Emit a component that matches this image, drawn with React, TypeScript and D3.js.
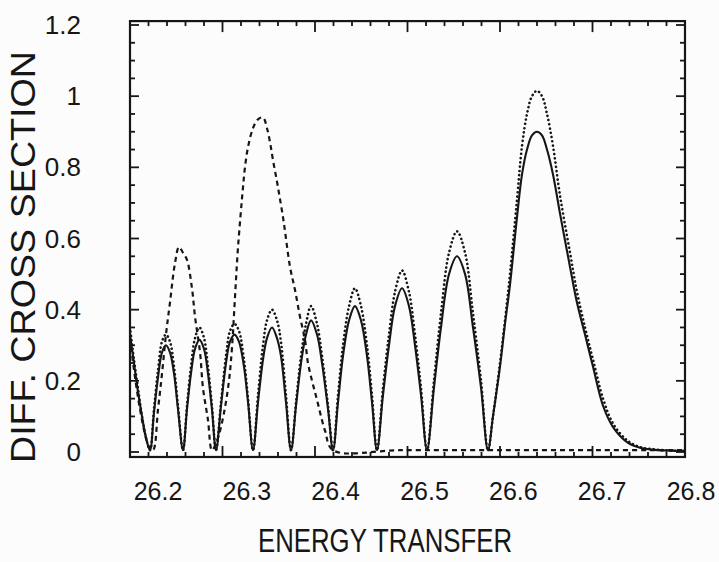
import React from "react";
import * as d3 from "d3";

// Energy transfer sample positions shared by the solid and dotted curves
const energy = [
  26.2, 26.2043, 26.2086, 26.213, 26.2173, 26.2216,
  26.2259, 26.2303, 26.2346, 26.2389, 26.2432, 26.2476, 26.2519, 26.2573,
  26.2616, 26.2659, 26.2703, 26.2751, 26.28, 26.2843, 26.2886, 26.293,
  26.2984, 26.3038, 26.3081, 26.313, 26.3178, 26.3232, 26.3276, 26.333,
  26.3384, 26.3438, 26.3481, 26.3535, 26.3589, 26.3632, 26.3686, 26.3741,
  26.3795, 26.3849, 26.3903, 26.3957, 26.4022, 26.4076, 26.4141, 26.4195,
  26.4249, 26.4303, 26.4368, 26.4432, 26.4497, 26.4562, 26.4616, 26.467,
  26.4735, 26.48, 26.4865, 26.4941, 26.5016, 26.5081, 26.5146, 26.5211,
  26.5286, 26.5362, 26.5449, 26.5535, 26.5622, 26.5708, 26.5795, 26.587,
  26.5924, 26.6, 26.6054, 26.6108, 26.6184, 26.6238, 26.6292, 26.6346, 26.64,
  26.6454, 26.6508, 26.6573, 26.6649, 26.6757, 26.6832, 26.6919, 26.7005,
  26.7114, 26.7222, 26.7373, 26.7514, 26.7676, 26.7838, 26.8,
];

// Solid curve
const solidSigma = [
  0.33, 0.25, 0.17, 0.1, 0.04, 0.005,
  0.11, 0.21, 0.28, 0.3, 0.28, 0.22, 0.12, 0.005,
  0.12, 0.22, 0.29, 0.315, 0.29, 0.22, 0.12, 0.005,
  0.13, 0.25, 0.31, 0.33, 0.31, 0.24, 0.14, 0.005,
  0.14, 0.26, 0.32, 0.35, 0.32, 0.27, 0.14, 0.005,
  0.13, 0.25, 0.33, 0.37, 0.33, 0.25, 0.12, 0.005,
  0.14, 0.27, 0.37, 0.41, 0.37, 0.27, 0.14, 0.005,
  0.16, 0.3, 0.41, 0.46, 0.41, 0.3, 0.16, 0.005,
  0.18, 0.35, 0.5, 0.55, 0.5, 0.35, 0.18, 0.005,
  0.1, 0.24, 0.36, 0.47, 0.66, 0.78, 0.85, 0.89, 0.9,
  0.89, 0.85, 0.78, 0.67, 0.52, 0.42, 0.33, 0.24,
  0.13, 0.07, 0.028, 0.012, 0.006, 0.004, 0.003,
];

// Dotted curve
const dottedSigma = [
  0.35, 0.26, 0.18, 0.1, 0.04, 0.005,
  0.12, 0.23, 0.31, 0.33, 0.31, 0.24, 0.13, 0.005,
  0.13, 0.24, 0.32, 0.35, 0.32, 0.24, 0.13, 0.005,
  0.14, 0.27, 0.34, 0.36, 0.34, 0.26, 0.15, 0.005,
  0.16, 0.3, 0.37, 0.4, 0.37, 0.31, 0.16, 0.005,
  0.14, 0.27, 0.36, 0.41, 0.36, 0.27, 0.13, 0.005,
  0.16, 0.3, 0.41, 0.46, 0.41, 0.3, 0.16, 0.005,
  0.18, 0.33, 0.45, 0.51, 0.45, 0.33, 0.18, 0.005,
  0.2, 0.39, 0.56, 0.62, 0.56, 0.39, 0.2, 0.005,
  0.1, 0.25, 0.37, 0.5, 0.71, 0.86, 0.95, 1.0, 1.015,
  1.0, 0.95, 0.86, 0.72, 0.56, 0.45, 0.35, 0.26,
  0.15, 0.08, 0.033, 0.014, 0.007, 0.004, 0.003,
];

// Dashed curve
const dashedEnergy = [
  26.2, 26.2054, 26.2108, 26.2162, 26.2205, 26.2249,
  26.2303, 26.2346, 26.2389, 26.2432, 26.2486, 26.253, 26.2573, 26.2616,
  26.267, 26.2703, 26.2757, 26.2789, 26.2843, 26.2886,
  26.2951, 26.3016, 26.307, 26.3103, 26.3135, 26.3168, 26.3222, 26.3243,
  26.3276, 26.333, 26.3384, 26.3438, 26.3481, 26.3514, 26.3546, 26.3589,
  26.3622, 26.3654, 26.3676, 26.373, 26.3784, 26.3838, 26.3892, 26.3924,
  26.3968, 26.4022, 26.4108, 26.4195, 26.4919, 26.6, 26.7081, 26.8,
];
const dashedSigma = [
  0.32, 0.21, 0.12, 0.05, 0.015, 0.005,
  0.12, 0.22, 0.33, 0.42, 0.53, 0.576, 0.56, 0.54,
  0.46, 0.38, 0.28, 0.18, 0.09, 0.005,
  0.04, 0.11, 0.2, 0.295, 0.435, 0.576, 0.745, 0.8,
  0.857, 0.91, 0.935, 0.94, 0.91, 0.87, 0.82, 0.76,
  0.71, 0.66, 0.62, 0.52, 0.455, 0.38, 0.315, 0.25,
  0.2, 0.146, 0.06, 0.005, 0.005, 0.005, 0.005, 0.005,
];

const xTickValues = [26.2, 26.3, 26.4, 26.5, 26.6, 26.7, 26.8];
const xTickLabels = ["26.2", "26.3", "26.4", "26.5", "26.6", "26.7", "26.8"];
const yTickValues = [0, 0.2, 0.4, 0.6, 0.8, 1.0, 1.2];
const yTickLabels = ["0", "0.2", "0.4", "0.6", "0.8", "1", "1.2"];
const xTitle = "ENERGY TRANSFER";
const yTitle = "DIFF. CROSS SECTION";

const FONT = "'Liberation Sans', Arial, Helvetica, sans-serif";
const INK = "#161616";

export default function App() {
  const W = 719;
  const H = 562;
  const x = d3.scaleLinear().domain([26.2, 26.8]).range([130, 685]);
  const y = d3.scaleLinear().domain([0, 1.2]).range([452, 25]);
  // tick labels of the scanned figure sit slightly shifted from their ticks
  const xLabel = d3.scaleLinear().domain([26.2, 26.8]).range([158, 691]);
  const frameTop = y(1.211);
  const frameBottom = y(-0.014);
  const [x0, x1] = x.range();

  const path = (xs: number[], ys: number[]) =>
    d3
      .line<number>()
      .x((d) => x(d))
      .y((_, i) => y(ys[i]))
      .curve(d3.curveCatmullRom.alpha(0.5))(xs) || "";

  const xMinor = d3.range(0, 31).map((i) => 26.2 + i * 0.02);
  const yMinor = d3.range(0, 25).map((i) => i * 0.05);
  const isMajorX = (v: number) => Math.abs(v * 10 - Math.round(v * 10)) < 1e-6;
  const isMajorY = (v: number) => Math.abs(v * 5 - Math.round(v * 5)) < 1e-6;

  return (
    <svg
      width={W}
      height={H}
      style={{ position: "absolute", left: 0, top: 0, background: "#fcfcfc" }}
    >
      <rect x={0} y={0} width={W} height={H} fill="#fcfcfc" />
      <defs>
        <clipPath id="plot">
          <rect x={x0} y={frameTop} width={x1 - x0} height={frameBottom - frameTop} />
        </clipPath>
      </defs>

      {/* ticks */}
      <g stroke={INK} strokeWidth={1.8}>
        {xMinor.map((v, i) => {
          const len = isMajorX(v) ? 11 : 5;
          return (
            <g key={"xt" + i}>
              <line x1={x(v)} x2={x(v)} y1={frameTop} y2={frameTop + len} />
              <line x1={x(v)} x2={x(v)} y1={frameBottom} y2={frameBottom - len} />
            </g>
          );
        })}
        {yMinor.map((v, i) => {
          const len = isMajorY(v) ? 9 : 5;
          return (
            <g key={"yt" + i}>
              <line x1={x0} x2={x0 + len} y1={y(v)} y2={y(v)} />
              <line x1={x1} x2={x1 - len} y1={y(v)} y2={y(v)} />
            </g>
          );
        })}
      </g>

      {/* curves */}
      <g clipPath="url(#plot)" fill="none" stroke={INK}>
        <path d={path(dashedEnergy, dashedSigma)} strokeWidth={2.2} strokeDasharray="5 4" />
        <path
          d={path(energy, dottedSigma)}
          strokeWidth={2.6}
          strokeDasharray="0.1 4.2"
          strokeLinecap="round"
        />
        <path d={path(energy, solidSigma)} strokeWidth={2.1} strokeLinejoin="round" />
      </g>

      {/* frame */}
      <rect
        x={x0}
        y={frameTop}
        width={x1 - x0}
        height={frameBottom - frameTop}
        fill="none"
        stroke={INK}
        strokeWidth={2.2}
      />

      {/* tick labels */}
      <g fontFamily={FONT} fill={INK}>
        {xTickValues.map((v, i) => (
          <text key={"xl" + i} x={xLabel(v)} y={500} fontSize={25} textAnchor="middle">
            {xTickLabels[i]}
          </text>
        ))}
        {yTickValues.map((v, i) => (
          <text key={"yl" + i} x={81} y={y(v) + 9} fontSize={26} textAnchor="end">
            {yTickLabels[i]}
          </text>
        ))}
        <text
          x={385}
          y={552}
          fontSize={34}
          textAnchor="middle"
          textLength={254}
          lengthAdjust="spacingAndGlyphs"
        >
          {xTitle}
        </text>
        <text
          transform={`translate(35, ${(frameTop + frameBottom) / 2 + 18}) rotate(-90)`}
          fontSize={35}
          textAnchor="middle"
          textLength={412}
          lengthAdjust="spacingAndGlyphs"
        >
          {yTitle}
        </text>
      </g>
    </svg>
  );
}
